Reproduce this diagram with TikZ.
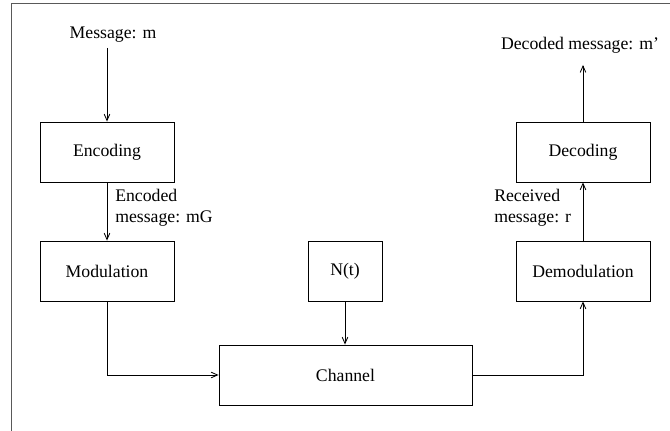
\documentclass[tikz,border=0pt]{standalone}
\usepackage{fontspec}
\setmainfont{Liberation Serif}
\usetikzlibrary{arrows.meta}

\begin{document}
\begin{tikzpicture}[
    every node/.style={font=\fontsize{12.6}{15}\selectfont},
    block/.style={draw,line width=0.6pt,minimum width=3.35cm,minimum height=1.5cm},
    flow/.style={-{Straight Barb[length=1.6mm,width=1.4mm]},line width=0.6pt},
    link/.style={line width=0.6pt}
]
\useasboundingbox (0,0) rectangle (16.75,10.775);

\draw [gray!70!black,line width=0.7pt] (0.275,0) -- (0.275,10.6875) -- (16.75,10.6875);

\node (msg) at (2.825,9.9) {Message: m};
\node (dec) at (14.5,9.65) {Decoded message: m'};
\coordinate (msgout) at (2.675,9.575);
\coordinate (decin) at (14.575,9.15);

\node [block] (encoding) at (2.675,6.975) {Encoding};
\node [block] (modulation) at (2.675,4.0) {Modulation};
\node [block,minimum width=1.85cm] (noise) at (8.625,4.0) {N(t)};
\node [block] (demodulation) at (14.575,4.0) {Demodulation};
\node [block] (decoding) at (14.575,6.975) {Decoding};
\node [block,minimum width=6.325cm] (channel) at (8.6375,1.4) {Channel};

\node [anchor=west,align=left,inner sep=0pt] (enclabel) at (2.875,5.575) {Encoded\\message: mG};
\node [anchor=west,align=left,inner sep=0pt] (reclabel) at (12.35,5.575) {Received\\message: r};

\draw [flow] (msgout) -- (encoding.north);
\draw [flow] (encoding) -- (modulation);
\draw [flow] (modulation.south) |- (channel.west);
\draw [flow] (noise) -- (channel.north -| noise);
\draw [flow] (channel.east) -| (demodulation.south);
\draw [flow] (demodulation) -- (decoding);
\draw [flow] (decoding.north) -- (decin);
\end{tikzpicture}
\end{document}
